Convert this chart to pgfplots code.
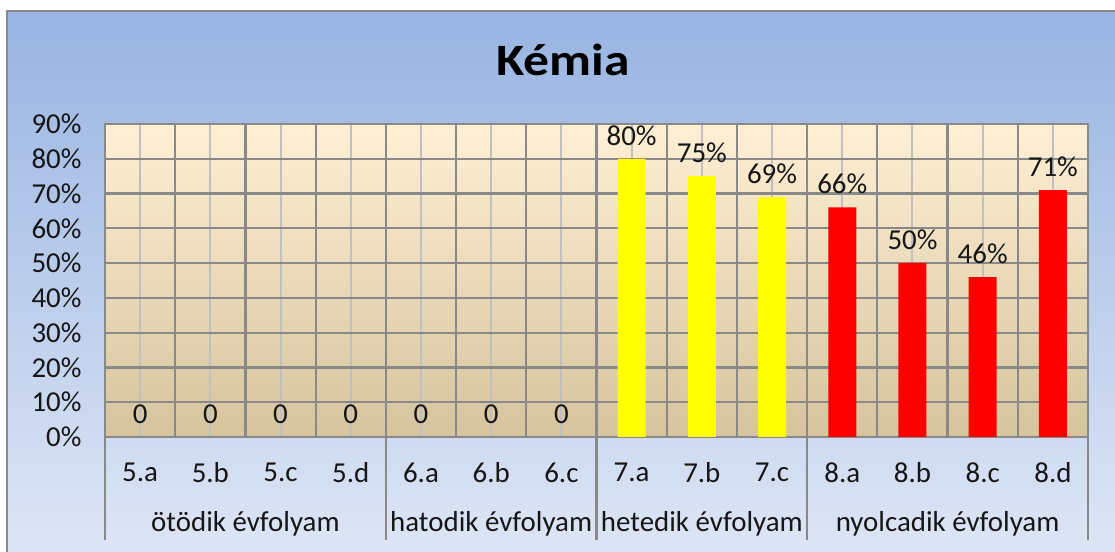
\documentclass[border=0pt]{standalone}
\usepackage{fontspec}
\setmainfont{Carlito}
\newfontfamily\titlefont{Carlito}[FakeStretch=1.15]
\usepackage{pgfplots}
\pgfplotsset{compat=1.18}
\pgfplotsset{/pgf/number format/assume math mode=true}
\definecolor{gridd}{RGB}{137,137,137}
\definecolor{gridl}{RGB}{192,192,192}
\definecolor{bgtop}{RGB}{152,180,226}
\definecolor{bgbot}{RGB}{222,230,245}
\definecolor{pltop}{RGB}{255,239,212}
\definecolor{plmid}{RGB}{243,234,212}
\definecolor{plbot}{RGB}{214,196,158}
\definecolor{txt}{RGB}{22,22,22}
\newcommand{\lblfont}{\fontsize{29}{33}\selectfont}
\begin{document}
\begin{tikzpicture}[x=1bp,y=1bp]
\path[use as bounding box] (0,0) rectangle (1115,552);
\clip (0,0) rectangle (1115,552);
\shade[top color=bgtop, bottom color=bgbot] (7,-5) rectangle (1120,541);
\draw[gridd, line width=2.5bp] (7,-5) -- (7,541) -- (1120,541);
\node[anchor=base, font=\titlefont\fontsize{45}{50}\selectfont\bfseries] at (563,476) {Kémia};
\begin{axis}[
  at={(105bp,115bp)}, anchor=south west,
  scale only axis, width=983bp, height=313bp,
  xmin=-0.5, xmax=13.5, ymin=0, ymax=90,
  xtick={0,...,13},
  xticklabels={5.a,5.b,5.c,5.d,6.a,6.b,6.c,7.a,7.b,7.c,8.a,8.b,8.c,8.d},
  minor xtick={-0.5,0.5,...,13.5},
  ytick={0,10,...,90},
  yticklabel={\pgfmathprintnumber{\tick}\%},
  xmajorgrids, xminorgrids, ymajorgrids,
  major x grid style={gridl, line width=2bp},
  minor x grid style={gridd, line width=2.2bp},
  major y grid style={gridd, line width=2.2bp},
  axis background/.style={shade, top color=pltop, middle color=plmid, bottom color=plbot},
  axis line style={gridd, line width=2.5bp},
  major tick length=0pt, minor tick length=0pt,
  clip=false,
  ticklabel style={font=\lblfont, text=txt},
  xticklabel style={yshift=-22bp},
  yticklabel style={xshift=-20bp},
  nodes near coords style={font=\lblfont, text=txt, yshift=10bp},
]
\addplot[ybar, bar width=28bp, bar shift=0pt, draw=none, fill=none,
  nodes near coords] coordinates {
  (0,0) (1,0) (2,0) (3,0) (4,0) (5,0) (6,0)
};
\addplot[ybar, bar width=28bp, bar shift=0pt, draw=none, fill={rgb,255:red,255;green,255;blue,0},
  nodes near coords={\pgfmathprintnumber{\pgfplotspointmeta}\%}] coordinates {
  (7,80) (8,75) (9,69)
};
\addplot[ybar, bar width=28bp, bar shift=0pt, draw=none, fill={rgb,255:red,255;green,0;blue,0},
  nodes near coords={\pgfmathprintnumber{\pgfplotspointmeta}\%}] coordinates {
  (10,66) (11,50) (12,46) (13,71)
};
\foreach \s in {-0.5,3.5,6.5,9.5,13.5} {
  \edef\temp{\noexpand\draw[gridd, line width=2.2bp] (axis cs:\s,0) -- ++(0pt,-103bp);}
  \temp
}
\path (axis cs:1.5,0) ++(0pt,-87bp) node[font=\lblfont, text=txt] {ötödik évfolyam};
\path (axis cs:5,0) ++(0pt,-87bp) node[font=\lblfont, text=txt] {hatodik évfolyam};
\path (axis cs:8,0) ++(0pt,-87bp) node[font=\lblfont, text=txt] {hetedik évfolyam};
\path (axis cs:11.5,0) ++(0pt,-87bp) node[font=\lblfont, text=txt] {nyolcadik évfolyam};
\end{axis}
\end{tikzpicture}
\end{document}
